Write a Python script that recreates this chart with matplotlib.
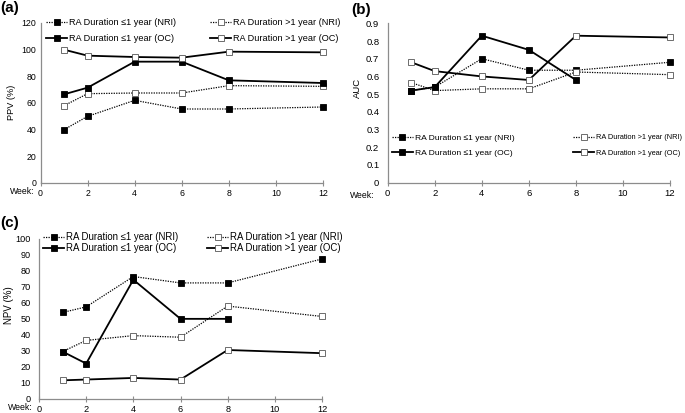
import matplotlib
matplotlib.use('Agg')
import numpy as np
from matplotlib import pyplot as plt

plt.rcParams['font.family'] = ['Liberation Sans', 'DejaVu Sans']

W, H = 685, 413

weeks = [1, 2, 4, 6, 8, 12]
weeks_oc_short = [1, 2, 4, 6, 8]

# (a) PPV (%)
ppv_le1_nri = [40, 50, 62, 55.5, 55.5, 57]
ppv_gt1_nri = [58, 67, 67.5, 67.5, 73, 72.5]
ppv_le1_oc = [66.5, 71.5, 91, 91, 77, 75]
ppv_gt1_oc = [100, 95.5, 94.5, 94, 98.5, 98]

# (b) AUC
auc_le1_nri = [0.52, 0.54, 0.70, 0.635, 0.635, 0.68]
auc_gt1_nri = [0.565, 0.52, 0.53, 0.53, 0.625, 0.61]
auc_le1_oc = [0.52, 0.54, 0.83, 0.75, 0.58]
auc_gt1_oc = [0.68, 0.63, 0.60, 0.58, 0.83, 0.82]

# (c) NPV (%)
npv_le1_nri = [54, 57.5, 76.5, 72.5, 72.5, 87.5]
npv_gt1_nri = [29.5, 36.5, 39.5, 38.5, 58, 51.5]
npv_le1_oc = [29.5, 22, 74.5, 50, 50]
npv_gt1_oc = [11.5, 12, 13, 12, 30.5, 28.5]

labels = ['RA Duration \u22641 year (NRI)', 'RA Duration \u22641 year (OC)',
          'RA Duration >1 year (NRI)', 'RA Duration >1 year (OC)']

SPINE = '#8c8c8c'


def make_ax(fig, left, right, top, bottom):
    return fig.add_axes([left / W, 1 - bottom / H, (right - left) / W, (bottom - top) / H])


def draw(ax, le1_nri, gt1_nri, le1_oc, gt1_oc, x_le1_oc, tick_fs, ypad):
    ms = 4.2
    h1, = ax.plot(weeks, le1_nri, ls=(0, (1, 1)), lw=0.9, color='black', marker='s', ms=ms,
                  mfc='black', mec='black', mew=0.6)
    h3, = ax.plot(weeks, gt1_nri, ls=(0, (1, 1)), lw=0.9, color='black', marker='s', ms=ms,
                  mfc='white', mec='#555555', mew=0.6)
    h2, = ax.plot(x_le1_oc, le1_oc, ls='-', lw=1.3, color='black', marker='s', ms=ms,
                  mfc='black', mec='black', mew=0.6)
    h4, = ax.plot(weeks, gt1_oc, ls='-', lw=1.3, color='black', marker='s', ms=ms,
                  mfc='white', mec='#555555', mew=0.6)
    ax.set_xlim(0, 12)
    ax.set_xticks(range(0, 13, 2))
    for s in ['top', 'right']:
        ax.spines[s].set_visible(False)
    for s in ['left', 'bottom']:
        ax.spines[s].set_color(SPINE)
        ax.spines[s].set_linewidth(0.9)
    ax.tick_params(axis='x', direction='inout', length=4, width=0.8, color=SPINE, pad=2.5,
                   labelsize=tick_fs)
    ax.tick_params(axis='y', length=0, pad=ypad, labelsize=tick_fs)
    for ln in (h1, h2, h3, h4):
        ln.set_clip_on(False)
    return h1, h2, h3, h4


def add_legends(fig, ax, handles, x1, x2, ytop, row_px, fs1, fs2):
    h1, h2, h3, h4 = handles
    sets = (((h1, h2), labels[:2], x1, fs1), ((h3, h4), labels[2:], x2, fs2))
    for i, (hs, labs, x, fs) in enumerate(sets):
        fpx = fs * 100 / 72
        lg = ax.legend(hs, labs, loc='upper left', bbox_to_anchor=(x / W, 1 - ytop / H),
                       bbox_transform=fig.transFigure, frameon=False, borderpad=0,
                       borderaxespad=0, handlelength=21 / fpx, handletextpad=2 / fpx,
                       labelspacing=(row_px - fpx * 1.15) / fpx, prop={'size': fs})
        if i == 0:
            ax.add_artist(lg)


def fig_text(fig, x, y, s, **kw):
    fig.text(x / W, 1 - y / H, s, **kw)


fig = plt.figure(figsize=(W / 100, H / 100), dpi=100)

# (a)
ax_a = make_ax(fig, 40.5, 323, 23, 183)
ha = draw(ax_a, ppv_le1_nri, ppv_gt1_nri, ppv_le1_oc, ppv_gt1_oc, weeks, 6.3, 3)
ax_a.set_ylim(0, 120)
ax_a.set_yticks(range(0, 121, 20))
add_legends(fig, ax_a, ha, 46, 210, 18, 18, 6.6, 6.6)
fig_text(fig, 12, 102, 'PPV (%)', rotation=90, ha='center', va='center', fontsize=6.6)
fig_text(fig, 34, 192, 'Week:', ha='right', va='center', fontsize=6.2)
fig_text(fig, 0, 8, '(a)', ha='left', va='center', fontsize=11, fontweight='bold')

# (b)
ax_b = make_ax(fig, 387.7, 670, 23.3, 182.7)
hb = draw(ax_b, auc_le1_nri, auc_gt1_nri, auc_le1_oc, auc_gt1_oc, weeks_oc_short, 6.8, 6)
ax_b.set_ylim(0, 0.9)
ax_b.set_yticks(np.arange(0, 0.91, 0.1))
ax_b.set_yticklabels(['0'] + ['%.1f' % v for v in np.arange(0.1, 0.91, 0.1)])
add_legends(fig, ax_b, hb, 392, 573, 134, 17, 6.1, 5.3)
fig_text(fig, 357, 88, 'AUC', rotation=90, ha='center', va='center', fontsize=6.8)
fig_text(fig, 374, 195, 'Week:', ha='right', va='center', fontsize=6.2)
fig_text(fig, 351, 10, '(b)', ha='left', va='center', fontsize=11, fontweight='bold')

# (c)
ax_c = make_ax(fig, 39, 322, 239, 398.7)
hc = draw(ax_c, npv_le1_nri, npv_gt1_nri, npv_le1_oc, npv_gt1_oc, weeks_oc_short, 6.6, 6)
ax_c.set_ylim(0, 100)
ax_c.set_yticks(range(0, 101, 10))
add_legends(fig, ax_c, hc, 43, 207, 232, 12, 6.9, 6.9)
fig_text(fig, 9, 305, 'NPV (%)', rotation=90, ha='center', va='center', fontsize=7.0)
fig_text(fig, 33, 408, 'Week:', ha='right', va='center', fontsize=6.3)
fig_text(fig, 0, 223, '(c)', ha='left', va='center', fontsize=11, fontweight='bold')

fig.savefig('out.png', dpi=100)
